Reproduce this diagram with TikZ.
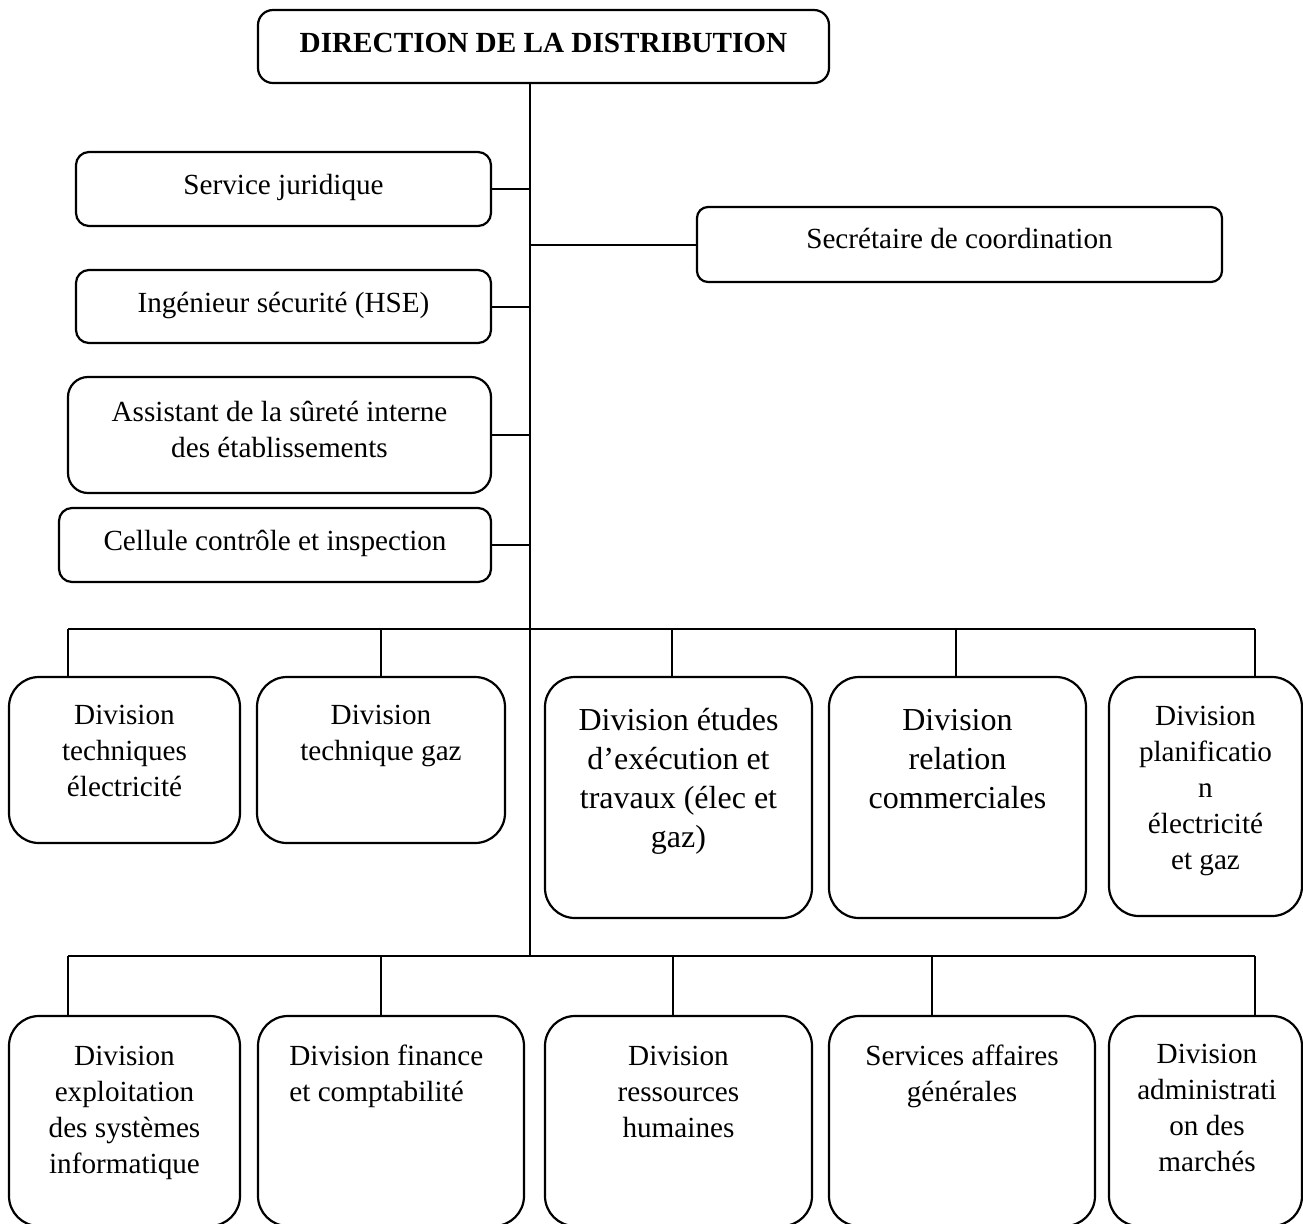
\documentclass[tikz,border=0pt]{standalone}
\usepackage{fontspec}
\setmainfont{Liberation Serif}
\begin{document}
\begin{tikzpicture}[x=0.5pt,y=-0.5pt,
  box/.style={draw, line width=1.1pt, inner sep=0pt},
  smallbox/.style={box, rounded corners=6.5pt},
  divbox/.style={box, rounded corners=15pt},
  % labels are anchored at the baseline of their last line
  lbl/.style={anchor=base, align=center, inner sep=0pt, font=\fontsize{14.6}{18}\selectfont},
  biglbl/.style={lbl, font=\fontsize{16}{19.5}\selectfont},
  link/.style={line width=1pt}]
\useasboundingbox (0,0) rectangle (1303,1223);

% top of the chart
\node[smallbox, rounded corners=7.5pt, minimum width=285.5pt, minimum height=36.5pt] (title) at (543.5,46.5) {};
\node[lbl, font=\fontsize{14.6}{18}\selectfont\bfseries] (titlet) at (543.5,52) {DIRECTION DE LA DISTRIBUTION};

% staff units on the left and right of the main line
\node[smallbox, minimum width=207.5pt, minimum height=37pt] (sj) at (283.5,189) {};
\node[lbl] (sjt) at (283.5,194) {Service juridique};
\node[smallbox, minimum width=207.5pt, minimum height=36.5pt] (ing) at (283.5,306.5) {};
\node[lbl] (ingt) at (283.5,312) {Ingénieur sécurité (HSE)};
\node[smallbox, rounded corners=10pt, minimum width=211.5pt, minimum height=58pt] (ass) at (279.5,435) {};
\node[lbl] (asst) at (279.5,457) {Assistant de la sûreté interne\\des établissements};
\node[smallbox, minimum width=216pt, minimum height=37pt] (cc) at (275,545) {};
\node[lbl] (cct) at (275,550) {Cellule contrôle et inspection};
\node[smallbox, rounded corners=5.5pt, minimum width=262.5pt, minimum height=37.5pt] (sec) at (959.5,244.5) {};
\node[lbl] (sect) at (959.5,248) {Secrétaire de coordination};

% first row of divisions
\node[divbox, minimum width=115.5pt, minimum height=83pt] (d1) at (124.5,760) {};
\node[lbl] (d1t) at (124.5,796) {Division\\techniques\\électricité};
\node[divbox, minimum width=124pt, minimum height=83pt] (d2) at (381,760) {};
\node[lbl] (d2t) at (381,760) {Division\\technique gaz};
\node[divbox, minimum width=133.5pt, minimum height=120.5pt] (d3) at (678.5,797.5) {};
\node[biglbl] (d3t) at (678.5,847) {Division études\\d’exécution et\\travaux (élec et\\gaz)};
\node[divbox, minimum width=128.5pt, minimum height=120.5pt] (d4) at (957.5,797.5) {};
\node[biglbl] (d4t) at (957.5,808) {Division\\relation\\commerciales};
\node[divbox, minimum width=96.5pt, minimum height=119.5pt] (d5) at (1205.5,796.5) {};
\node[lbl] (d5t) at (1205.5,869) {Division\\planificatio\\n\\électricité\\et gaz};

% second row of divisions
\node[divbox, minimum width=115.5pt, minimum height=105pt] (e1) at (124.5,1121) {};
\node[lbl] (e1t) at (124.5,1173) {Division\\exploitation\\des systèmes\\informatique};
\node[divbox, minimum width=133pt, minimum height=105pt] (e2) at (391,1121) {};
\node[lbl, anchor=base west, align=left] (e2t) at (289,1101) {Division finance\\et comptabilité};
\node[divbox, minimum width=133.5pt, minimum height=105pt] (e3) at (678.5,1121) {};
\node[lbl] (e3t) at (678.5,1137) {Division\\ressources\\humaines};
\node[divbox, minimum width=133pt, minimum height=105pt] (e4) at (962,1121) {};
\node[lbl] (e4t) at (962,1101) {Services affaires\\générales};
\node[divbox, minimum width=96.5pt, minimum height=105pt] (e5) at (1205.5,1121) {};
\node[lbl] (e5t) at (1207,1171) {Division\\administrati\\on des\\marchés};

% main line and its junctions
\coordinate (j1) at (530,629);
\coordinate (j2) at (530,956);
\draw[link] (title.south -| j2) -- (j2);

% staff connectors
\draw[link] (sj.east) -- (sj.east -| j1);
\draw[link] (ing.east) -- (ing.east -| j1);
\draw[link] (ass.east) -- (ass.east -| j1);
\draw[link] (cc.east) -- (cc.east -| j1);
\draw[link] (sec.west) -- (sec.west -| j1);

% first bus
\coordinate (p11) at (68,629);
\coordinate (p12) at (381,629);
\coordinate (p13) at (672,629);
\coordinate (p14) at (956,629);
\coordinate (p15) at (1255,629);
\draw[link] (p11) -- (p15);
\draw[link] (p11) -- (p11 |- d1.north);
\draw[link] (p12) -- (p12 |- d2.north);
\draw[link] (p13) -- (p13 |- d3.north);
\draw[link] (p14) -- (p14 |- d4.north);
\draw[link] (p15) -- (p15 |- d5.north);

% second bus
\coordinate (p21) at (68,956);
\coordinate (p22) at (381,956);
\coordinate (p23) at (673,956);
\coordinate (p24) at (932,956);
\coordinate (p25) at (1255,956);
\draw[link] (p21) -- (p25);
\draw[link] (p21) -- (p21 |- e1.north);
\draw[link] (p22) -- (p22 |- e2.north);
\draw[link] (p23) -- (p23 |- e3.north);
\draw[link] (p24) -- (p24 |- e4.north);
\draw[link] (p25) -- (p25 |- e5.north);
\end{tikzpicture}
\end{document}
